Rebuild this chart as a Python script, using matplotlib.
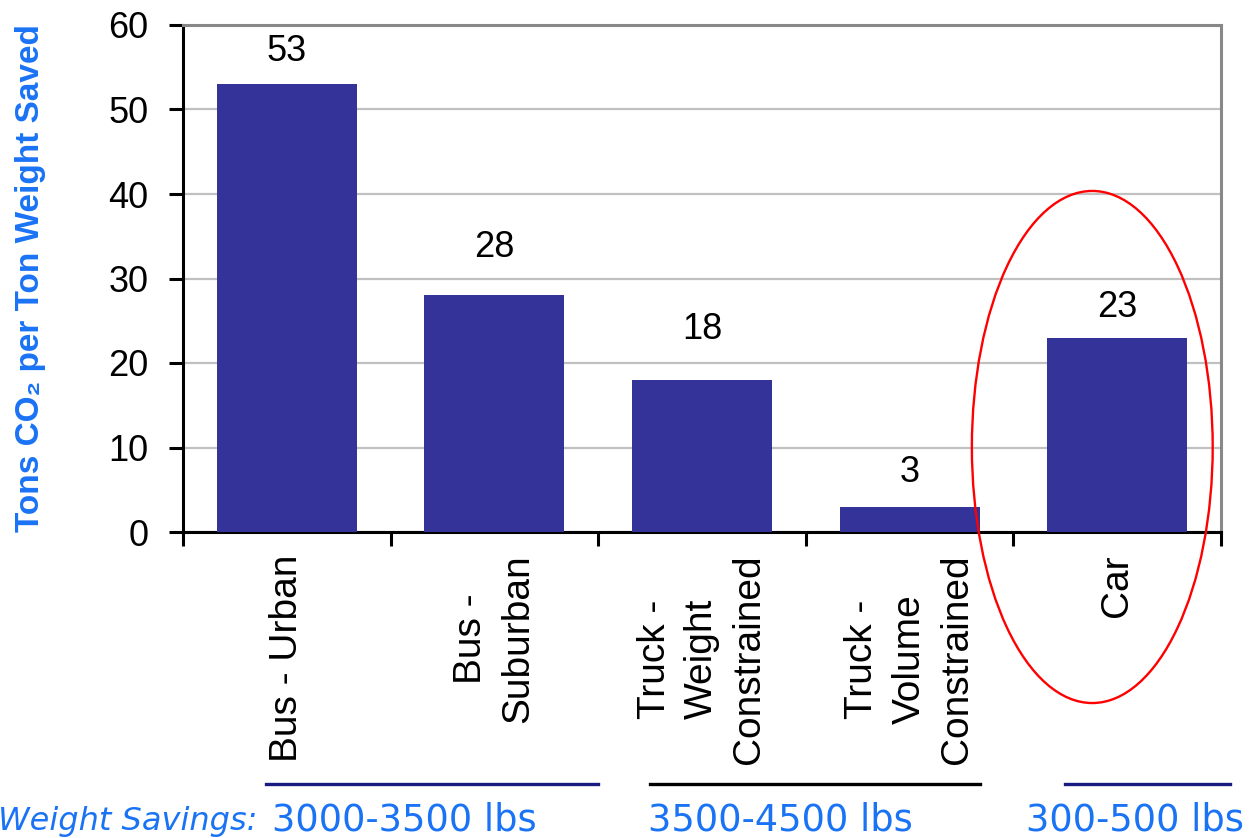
import matplotlib
matplotlib.use("Agg")
import matplotlib.pyplot as plt
from matplotlib.patches import Ellipse
from matplotlib.lines import Line2D
import numpy as np

# Data
categories = ["Bus - Urban", "Bus -\nSuburban", "Truck -\nWeight\nConstrained",
              "Truck -\nVolume\nConstrained", "Car"]
values = [53, 28, 18, 3, 23]
value_labels = ["53", "28", "18", "3", "23"]
y_ticks = [0, 10, 20, 30, 40, 50, 60]
group_labels = ["3000-3500 lbs", "3500-4500 lbs", "300-500 lbs"]
group_title = "Weight Savings:"
y_title = "Tons CO\u2082 per Ton Weight Saved"

# Layout / style
W, H = 1249, 838
bar_color = "#333399"
blue_text = "#1a73f5"
label_offsets_pt = [11, 22, 24, 12, 9]

plt.rcParams["font.family"] = ["Liberation Sans", "DejaVu Sans"]

fig = plt.figure(figsize=(W / 100, H / 100), dpi=100)
ax = fig.add_axes([183 / W, 1 - 532 / H, (1221 - 183) / W, (532 - 25) / H])

x = np.arange(len(categories))
ax.bar(x, values, width=0.675, color=bar_color, zorder=3)

for xi, v, lab, off in zip(x, values, value_labels, label_offsets_pt):
    ax.annotate(lab, (xi, v), xytext=(0, off), textcoords="offset points",
                ha="center", va="bottom", fontsize=26, color="black")

ax.set_xlim(-0.5, len(categories) - 0.5)
ax.set_ylim(0, 60)
ax.set_yticks(y_ticks)
ax.set_yticklabels([str(t) for t in y_ticks], fontsize=26)
ax.yaxis.grid(True, color="#c0c0c0", linewidth=1.6, zorder=0)
ax.set_axisbelow(True)

# category boundaries as major ticks, names on minor ticks
ax.set_xticks(np.arange(-0.5, len(categories), 1.0))
ax.set_xticklabels([])
ax.set_xticks(x, minor=True)
ax.set_xticklabels(categories, minor=True, rotation=90, fontsize=28,
                   va="top", ha="center", multialignment="center",
                   linespacing=1.4)
ax.tick_params(axis="x", which="major", direction="out", length=10, width=2.2,
               color="black")
ax.tick_params(axis="x", which="minor", length=0, pad=16)
ax.tick_params(axis="y", direction="out", length=10, width=2.2, pad=15)

for side in ("left", "bottom"):
    ax.spines[side].set_color("black")
    ax.spines[side].set_linewidth(2.2)
for side in ("top", "right"):
    ax.spines[side].set_color("#888888")
    ax.spines[side].set_linewidth(2.2)

ax.set_ylabel(y_title, fontsize=24, fontweight="bold", color=blue_text,
              va="center")
ax.yaxis.set_label_coords(-0.147, 0.5)

# highlight around the Car category
ell = Ellipse((3.88, 10.06), width=1.16, height=60.6, fill=False,
              edgecolor="red", linewidth=1.7, clip_on=False, zorder=5)
ax.add_patch(ell)

# group brackets below the category names
line_specs = [(266, 598, "#1a1a80"), (650, 980, "black"), (1065, 1230, "#1a1a80")]
for x0, x1, c in line_specs:
    fig.add_artist(Line2D([x0 / W, x1 / W], [1 - 784 / H, 1 - 784 / H],
                          color=c, linewidth=2.4))

base_y = 1 - 830 / H
fig.text(257 / W, base_y, group_title, ha="right", va="baseline",
         fontsize=23, style="italic", color=blue_text, family="DejaVu Sans")
for gx, gl in zip([272, 648, 1026], group_labels):
    fig.text(gx / W, base_y, gl, ha="left", va="baseline", fontsize=26.5,
             color=blue_text, family="DejaVu Sans")

fig.savefig("out.png", dpi=100)
